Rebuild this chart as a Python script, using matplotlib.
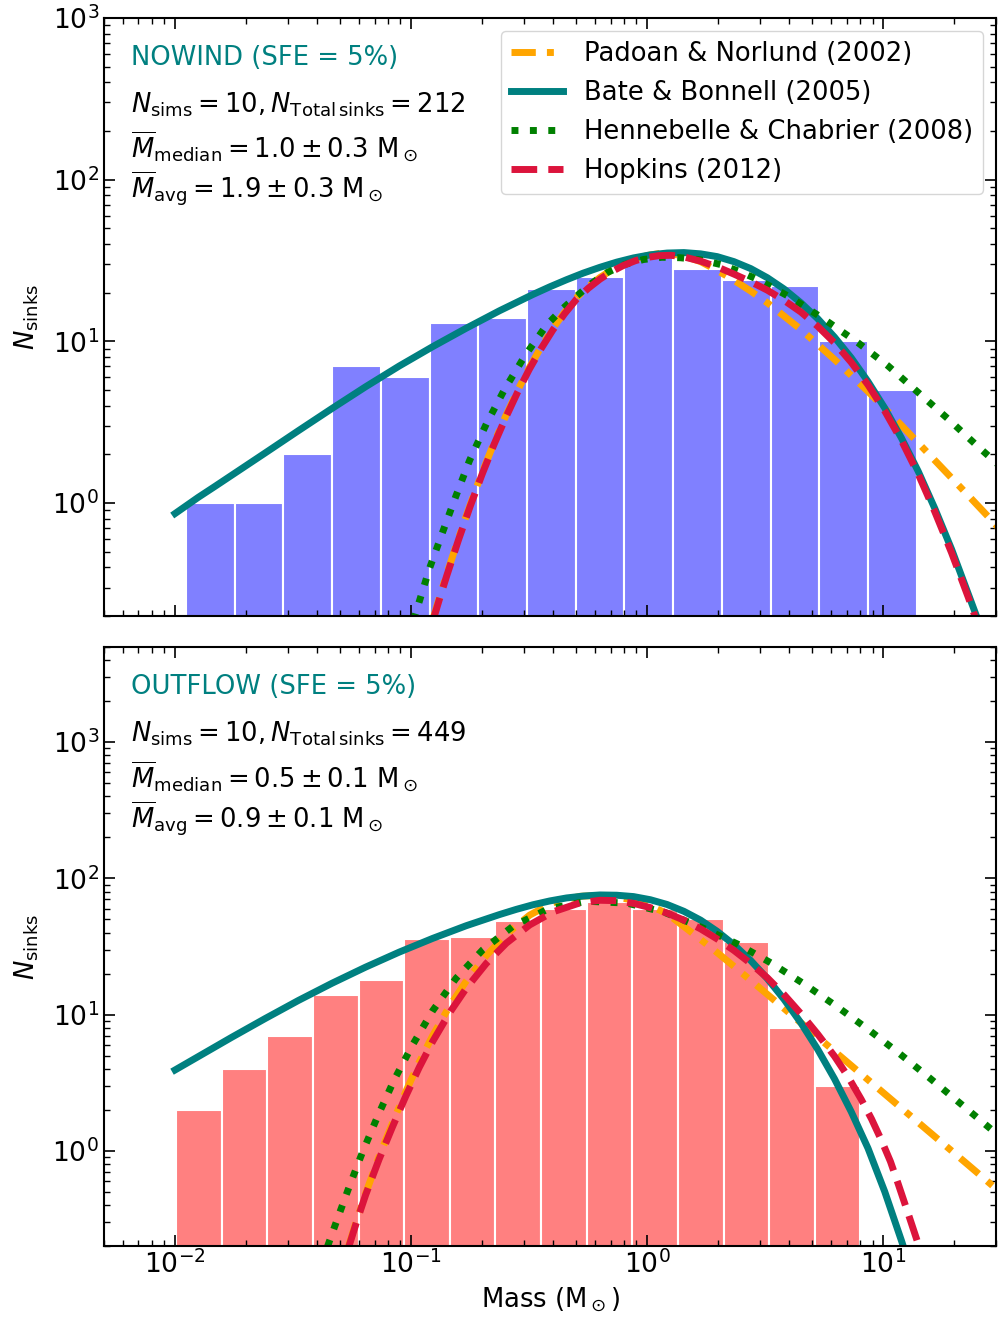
import numpy as np
import matplotlib
matplotlib.use('Agg')
import matplotlib.pyplot as plt

# --- histogram counts of sink masses (15 log bins per run) ---
nowind_counts = [1, 1, 2, 7, 6, 13, 14, 21, 25, 33, 28, 24, 22, 10, 5]
nowind_mmin, nowind_mmax = 0.01112, 13.84
outflow_counts = [2, 4, 7, 14, 18, 36, 37, 49, 60, 67, 60, 50, 34, 8, 3]
outflow_mmin, outflow_mmax = 0.0101, 8.0

# --- IMF model curves, NOWIND panel (log10 mass, log10 N) ---
pad_top_lm = [-0.91, -0.88, -0.85, -0.80, -0.75, -0.70, -0.65, -0.60, -0.55, -0.50, -0.45, -0.40,
              -0.35, -0.30, -0.25, -0.20, -0.15, -0.10, -0.05, 0.0, 0.05, 0.084, 0.155, 0.226,
              0.296, 0.367, 0.438, 0.509, 0.651, 0.793, 0.935, 1.077, 1.218, 1.360, 1.502]
pad_top_ln = [-0.73, -0.583, -0.443, -0.220, -0.010, 0.186, 0.369, 0.537, 0.693, 0.836, 0.964, 1.080,
              1.181, 1.270, 1.338, 1.395, 1.442, 1.480, 1.510, 1.531, 1.543, 1.545, 1.528, 1.493,
              1.439, 1.378, 1.311, 1.238, 1.073, 0.888, 0.690, 0.480, 0.264, 0.046, -0.174]
bb_top_lm = [-2.0, -1.902, -1.831, -1.760, -1.618, -1.477, -1.335, -1.193, -1.051, -0.909,
             -0.767, -0.626, -0.484, -0.413, -0.342, -0.271, -0.200, -0.129, -0.058, 0.013,
             0.084, 0.155, 0.226, 0.296, 0.367, 0.438, 0.509, 0.580, 0.651, 0.722,
             0.793, 0.864, 0.935, 1.006, 1.077, 1.148, 1.218, 1.289, 1.360, 1.42]
bb_top_ln = [-0.065, 0.035, 0.103, 0.172, 0.310, 0.448, 0.585, 0.719, 0.847, 0.967,
             1.081, 1.189, 1.290, 1.337, 1.381, 1.422, 1.458, 1.490, 1.516, 1.535,
             1.546, 1.549, 1.541, 1.524, 1.493, 1.450, 1.393, 1.323, 1.238, 1.140,
             1.026, 0.898, 0.751, 0.587, 0.401, 0.195, -0.034, -0.286, -0.564, -0.80]
hc_top_lm = [-0.99, -0.973, -0.923, -0.867, -0.810, -0.753, -0.682, -0.604, -0.519, -0.427,
             -0.363, -0.299, -0.236, -0.172, -0.094, -0.016, 0.062, 0.140, 0.225, 0.311,
             0.389, 0.467, 0.609, 0.750, 0.892, 1.020, 1.148, 1.275, 1.389, 1.50]
hc_top_ln = [-0.725, -0.644, -0.407, -0.181, 0.045, 0.262, 0.488, 0.704, 0.909, 1.099,
             1.196, 1.280, 1.358, 1.424, 1.476, 1.506, 1.520, 1.517, 1.504, 1.475,
             1.433, 1.383, 1.270, 1.136, 0.992, 0.848, 0.683, 0.519, 0.365, 0.22]
hop_top_lm = [-0.91, -0.88, -0.85, -0.80, -0.75, -0.70, -0.65, -0.60, -0.55, -0.50, -0.45, -0.40,
              -0.35, -0.30, -0.25, -0.20, -0.15, -0.10, -0.05, 0.0, 0.05, 0.10, 0.15, 0.226,
              0.30, 0.367, 0.438, 0.509, 0.580, 0.651, 0.722, 0.793, 0.864, 0.935, 1.006,
              1.077, 1.148, 1.218, 1.289, 1.360, 1.40]
hop_top_ln = [-0.739, -0.593, -0.453, -0.230, -0.020, 0.176, 0.359, 0.527, 0.683, 0.826, 0.954, 1.070,
              1.171, 1.260, 1.328, 1.385, 1.432, 1.470, 1.499, 1.519, 1.530, 1.532, 1.524, 1.496,
              1.458, 1.416, 1.369, 1.316, 1.253, 1.181, 1.093, 0.991, 0.870, 0.731, 0.569,
              0.386, 0.178, -0.054, -0.308, -0.584, -0.75]

# --- IMF model curves, OUTFLOW panel (log10 mass, log10 N) ---
pad_bot_lm = [-1.265, -1.235, -1.193, -1.136, -1.080, -1.023, -0.966, -0.909, -0.838, -0.767,
              -0.682, -0.597, -0.498, -0.399, -0.285, -0.200, -0.129, -0.058, 0.013, 0.084,
              0.169, 0.282, 0.367, 0.495, 0.594, 0.736, 0.821, 0.935, 1.020, 1.119,
              1.218, 1.360, 1.50]
pad_bot_ln = [-0.70, -0.533, -0.315, -0.043, 0.200, 0.433, 0.650, 0.845, 1.060, 1.245,
              1.432, 1.590, 1.730, 1.822, 1.868, 1.876, 1.862, 1.840, 1.798, 1.741,
              1.628, 1.475, 1.354, 1.168, 1.023, 0.814, 0.689, 0.521, 0.396, 0.250,
              0.104, -0.105, -0.312]
bb_bot_lm = [-2.0, -1.902, -1.760, -1.618, -1.477, -1.335, -1.193, -1.051, -0.909, -0.767,
             -0.626, -0.555, -0.484, -0.413, -0.342, -0.271, -0.200, -0.129, -0.058, 0.013,
             0.084, 0.155, 0.226, 0.296, 0.367, 0.438, 0.509, 0.580, 0.651, 0.722,
             0.793, 0.864, 0.935, 1.006, 1.077, 1.12]
bb_bot_ln = [0.593, 0.691, 0.833, 0.971, 1.104, 1.230, 1.348, 1.458, 1.559, 1.652,
             1.734, 1.772, 1.806, 1.834, 1.856, 1.870, 1.878, 1.876, 1.866, 1.843,
             1.808, 1.758, 1.693, 1.611, 1.513, 1.397, 1.263, 1.110, 0.938, 0.744,
             0.528, 0.286, 0.018, -0.301, -0.662, -0.894]
hc_bot_lm = [-1.38, -1.357, -1.320, -1.264, -1.207, -1.139, -1.072, -0.994, -0.909, -0.810,
             -0.697, -0.569, -0.420, -0.257, -0.086, 0.069, 0.2255, 0.382, 0.523, 0.663,
             0.800, 0.935, 1.065, 1.194, 1.322, 1.448, 1.50]
hc_bot_ln = [-0.83, -0.716, -0.537, -0.271, -0.014, 0.265, 0.520, 0.777, 1.028, 1.266,
             1.475, 1.648, 1.775, 1.832, 1.818, 1.753, 1.643, 1.518, 1.380, 1.226,
             1.063, 0.892, 0.718, 0.537, 0.353, 0.170, 0.095]
hop_bot_lm = [-1.265, -1.235, -1.193, -1.136, -1.080, -1.023, -0.966, -0.909, -0.838, -0.767,
              -0.682, -0.597, -0.498, -0.399, -0.285, -0.200, -0.129, -0.058, 0.013, 0.084,
              0.155, 0.226, 0.296, 0.367, 0.438, 0.509, 0.580, 0.651, 0.722, 0.793,
              0.850, 0.906, 0.950, 0.991, 1.030, 1.063, 1.105, 1.148, 1.17]
hop_bot_ln = [-0.71, -0.543, -0.325, -0.063, 0.172, 0.400, 0.611, 0.802, 1.011, 1.192,
              1.375, 1.524, 1.658, 1.754, 1.820, 1.839, 1.836, 1.816, 1.785, 1.745,
              1.693, 1.629, 1.555, 1.471, 1.375, 1.269, 1.145, 1.006, 0.856, 0.694,
              0.545, 0.378, 0.233, 0.080, -0.079, -0.244, -0.461, -0.686, -0.80]

panels = [
    dict(name='NOWIND (SFE = 5%)', counts=nowind_counts, mrange=(nowind_mmin, nowind_mmax),
         color='#8080ff', ylim=(0.2, 1e3), nsinks=212, median='1.0 \\pm 0.3', avg='1.9 \\pm 0.3',
         curves=[(pad_top_lm, pad_top_ln), (bb_top_lm, bb_top_ln),
                 (hc_top_lm, hc_top_ln), (hop_top_lm, hop_top_ln)]),
    dict(name='OUTFLOW (SFE = 5%)', counts=outflow_counts, mrange=(outflow_mmin, outflow_mmax),
         color='#ff8080', ylim=(0.2, 5e3), nsinks=449, median='0.5 \\pm 0.1', avg='0.9 \\pm 0.1',
         curves=[(pad_bot_lm, pad_bot_ln), (bb_bot_lm, bb_bot_ln),
                 (hc_bot_lm, hc_bot_ln), (hop_bot_lm, hop_bot_ln)]),
]

models = [
    dict(label='Padoan & Norlund (2002)', color='orange', ls=(0, (3.5, 1.6, 1.0, 1.6))),
    dict(label='Bate & Bonnell (2005)', color='teal', ls='-'),
    dict(label='Hennebelle & Chabrier (2008)', color='green', ls=':'),
    dict(label='Hopkins (2012)', color='crimson', ls='--'),
]

fs = 18.6
tfs = 19.2
fig = plt.figure(figsize=(9.98, 13.2), dpi=100)
ax_top = fig.add_axes([0.1042, 0.5333, 0.8938, 0.4531])
ax_bot = fig.add_axes([0.1042, 0.0561, 0.8938, 0.4538])

for ax, p in zip([ax_top, ax_bot], panels):
    edges = np.logspace(np.log10(p['mrange'][0]), np.log10(p['mrange'][1]), len(p['counts']) + 1)
    ax.bar(edges[:-1], p['counts'], width=np.diff(edges), align='edge', bottom=1e-3,
           color=p['color'], edgecolor='white', linewidth=1.5, zorder=1)
    for (lm, ln), mod in zip(p['curves'], models):
        ax.plot(np.power(10.0, lm), np.power(10.0, ln), color=mod['color'],
                linestyle=mod['ls'], linewidth=5, label=mod['label'], zorder=2)

    ax.set_xscale('log')
    ax.set_yscale('log')
    ax.set_xlim(5e-3, 30)
    ax.set_ylim(*p['ylim'])
    ax.set_ylabel(r'$N_{\rm sinks}$', fontsize=fs, labelpad=8)

    # run name and summary numbers in the upper left corner
    ax.text(0.03, 0.933, p['name'], transform=ax.transAxes, color='teal', fontsize=fs, va='center')
    ax.text(0.03, 0.855, r'$N_{\rm sims} = 10, N_{\rm Total\,sinks} = %d$' % p['nsinks'],
            transform=ax.transAxes, fontsize=fs, va='center')
    ax.text(0.03, 0.783, r'$\overline{M}_{\rm median} = %s\ {\rm M}_\odot$' % p['median'],
            transform=ax.transAxes, fontsize=fs, va='center')
    ax.text(0.03, 0.714, r'$\overline{M}_{\rm avg} = %s\ {\rm M}_\odot$' % p['avg'],
            transform=ax.transAxes, fontsize=fs, va='center')

    ax.tick_params(which='both', direction='in', top=True, right=True, labelsize=tfs)
    ax.tick_params(which='major', length=8, width=1.2)
    ax.tick_params(which='minor', length=4.5, width=1)
    for sp in ax.spines.values():
        sp.set_linewidth(1.5)

ax_top.tick_params(labelbottom=False)
ax_top.legend(loc='upper right', fontsize=fs, labelspacing=0.5)
ax_bot.set_xlabel(r'Mass (M$_\odot$)', fontsize=fs)

fig.savefig('out.png', dpi=100)
